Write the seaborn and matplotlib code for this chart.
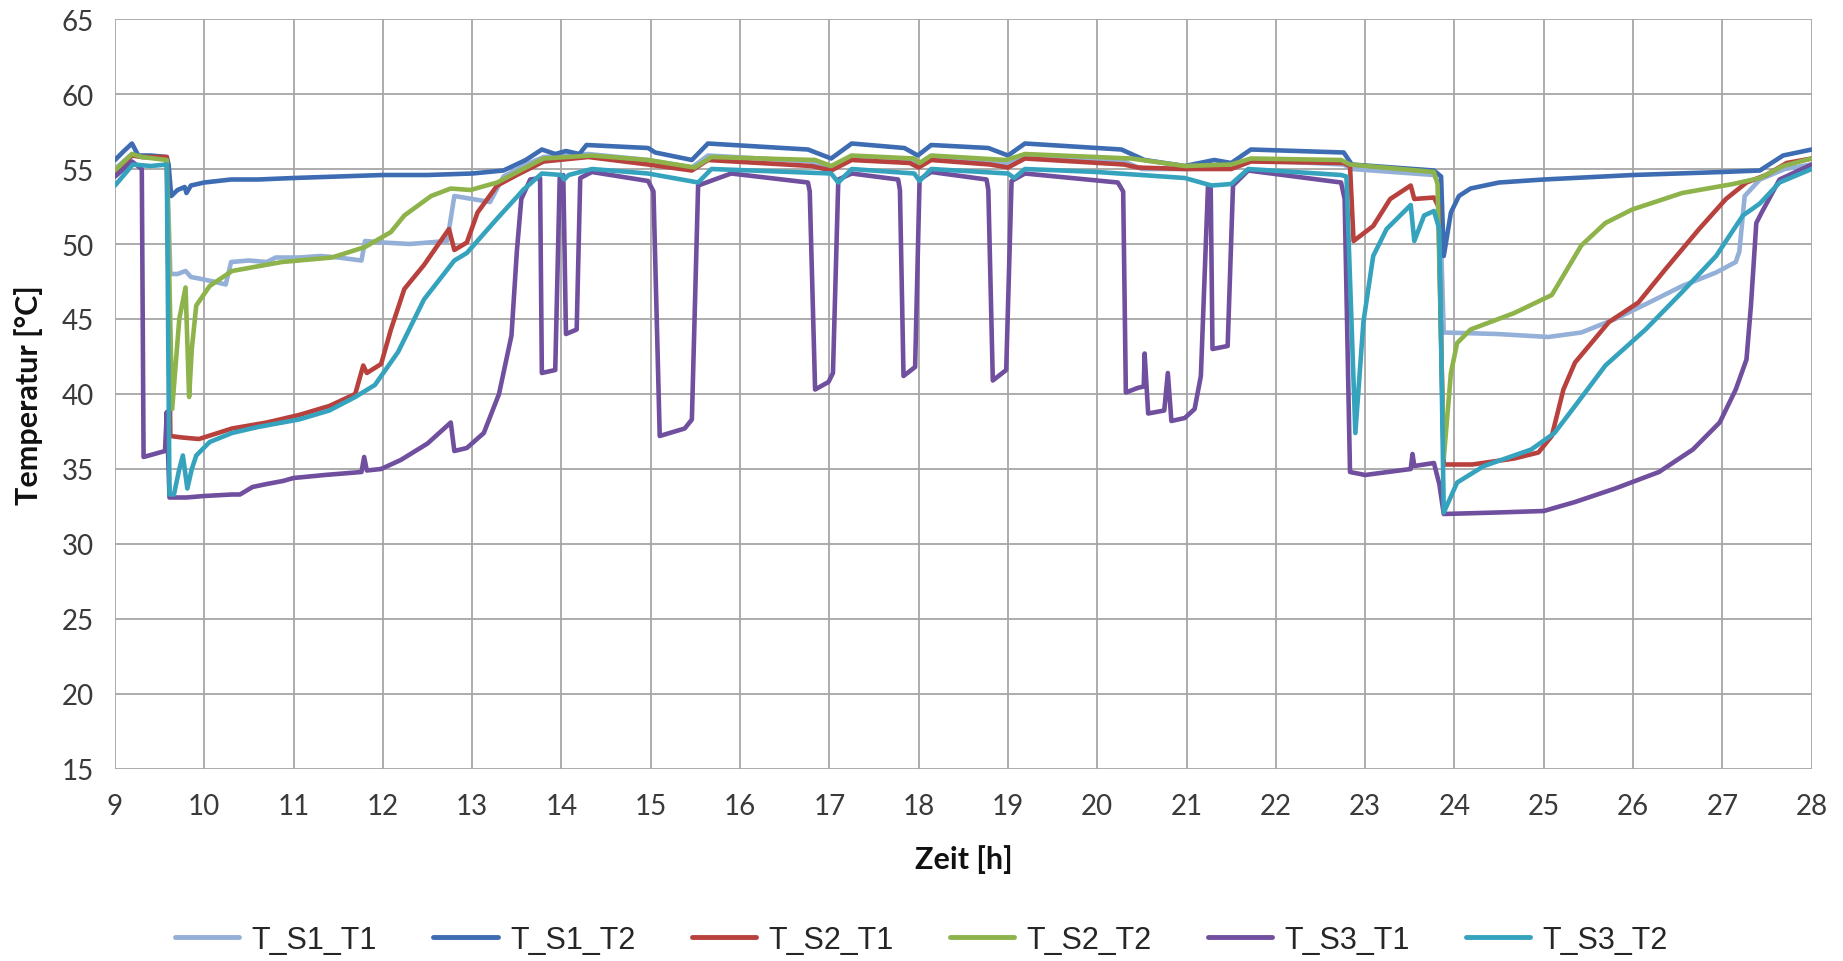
import pandas as pd
import matplotlib.pyplot as plt
import seaborn as sns

series_names = ['T_S1_T1', 'T_S1_T2', 'T_S2_T1', 'T_S2_T2', 'T_S3_T1', 'T_S3_T2']
series_colors = ['#94B0D8', '#3D6CB3', '#B8413E', '#8DB34A', '#6F4F9E', '#35A3BE']

# values (Zeit [h], Temperatur [°C])
t_s1_t1_h = [9.0, 9.19, 9.3, 9.58, 9.62, 9.7, 9.79, 9.85, 9.94, 10.1, 10.24, 10.3, 10.5, 10.7, 10.8, 11.06,
             11.3, 11.5, 11.76, 11.8, 12.0, 12.3, 12.72, 12.8, 13.0, 13.2, 13.35, 13.6, 13.8, 14.3, 14.97,
             15.46, 15.64, 16.8, 17.02, 17.25, 17.9, 18.0, 18.14, 18.8, 19.0, 19.19, 20.3, 20.5, 21.0, 21.5,
             21.72, 22.76, 22.85, 23.77, 23.83, 23.88, 24.48, 25.05, 25.42, 25.8, 26.18, 26.55, 26.93, 27.15,
             27.19, 27.25, 27.42, 27.7, 28.0]
t_s1_t1_temp = [55.0, 56.0, 55.8, 55.7, 48.0, 48.0, 48.2, 47.8, 47.7, 47.5, 47.3, 48.8, 48.9, 48.8, 49.1, 49.1,
                49.2, 49.1, 48.9, 50.2, 50.1, 50.0, 50.2, 53.2, 53.0, 52.8, 54.5, 55.3, 55.8, 56.0, 55.6,
                55.1, 55.9, 55.5, 55.1, 55.8, 55.6, 55.3, 55.8, 55.5, 55.3, 55.9, 55.5, 55.0, 55.0, 55.1,
                55.6, 55.3, 55.0, 54.6, 54.0, 44.1, 44.0, 43.8, 44.1, 45.0, 46.1, 47.2, 48.1, 48.8,
                49.5, 53.2, 54.3, 55.0, 55.3]

t_s1_t2_h = [9.0, 9.1, 9.19, 9.26, 9.4, 9.58, 9.6, 9.63, 9.7, 9.78, 9.8, 9.85, 10.0, 10.3, 10.6, 11.0, 11.5,
             12.0, 12.5, 13.0, 13.35, 13.6, 13.78, 13.93, 14.05, 14.2, 14.28, 14.97, 15.05, 15.46, 15.64,
             16.76, 17.02, 17.25, 17.84, 17.99, 18.14, 18.78, 19.0, 19.19, 20.27, 20.53, 20.98, 21.31, 21.5,
             21.72, 22.76, 22.85, 23.77, 23.85, 23.88, 23.96, 24.05, 24.18, 24.5, 25.0, 26.0, 27.0, 27.42,
             27.68, 28.0]
t_s1_t2_temp = [55.6, 56.2, 56.7, 55.9, 55.9, 55.8, 55.3, 53.2, 53.6, 53.8, 53.4, 53.9, 54.1, 54.3, 54.3, 54.4,
                54.5, 54.6, 54.6, 54.7, 54.9, 55.6, 56.3, 56.0, 56.2, 56.0, 56.6, 56.4, 56.1, 55.6, 56.7,
                56.3, 55.7, 56.7, 56.4, 55.9, 56.6, 56.4, 55.9, 56.7, 56.3, 55.6, 55.2, 55.6, 55.4,
                56.3, 56.1, 55.3, 54.9, 54.5, 49.2, 52.1, 53.2, 53.7, 54.1, 54.3, 54.6, 54.8, 54.9,
                55.9, 56.3]

t_s2_t1_h = [9.0, 9.19, 9.3, 9.58, 9.62, 9.75, 9.94, 10.1, 10.31, 10.7, 11.06, 11.4, 11.69, 11.78, 11.82,
             11.98, 12.09, 12.24, 12.46, 12.6, 12.74, 12.8, 12.94, 13.06, 13.28, 13.5, 13.8, 14.3, 14.97,
             15.46, 15.64, 16.8, 17.02, 17.25, 17.9, 18.0, 18.14, 18.8, 19.0, 19.19, 20.3, 20.45, 20.98,
             21.5, 21.72, 22.76, 22.83, 22.87, 23.09, 23.28, 23.51, 23.55, 23.77, 23.82, 23.88, 24.2, 24.67,
             24.94, 25.09, 25.22, 25.35, 25.73, 26.06, 26.36, 26.74, 27.04, 27.27, 27.49, 27.72, 28.0]
t_s2_t1_temp = [54.7, 55.9, 55.8, 55.8, 37.2, 37.1, 37.0, 37.3, 37.7, 38.1, 38.6, 39.2, 40.0, 41.9, 41.4,
                42.0, 44.3, 47.0, 48.6, 49.8, 51.0, 49.6, 50.1, 52.1, 53.9, 54.6, 55.5, 55.8, 55.3,
                54.9, 55.6, 55.2, 54.9, 55.6, 55.4, 55.1, 55.6, 55.3, 55.1, 55.7, 55.3, 55.1, 55.0,
                55.0, 55.5, 55.4, 55.2, 50.2, 51.2, 53.0, 53.9, 53.0, 53.1, 52.5, 35.3, 35.3, 35.7,
                36.1, 37.2, 40.3, 42.1, 44.8, 46.1, 48.3, 51.0, 53.0, 54.1, 54.6, 55.4, 55.7]

t_s2_t2_h = [9.0, 9.19, 9.3, 9.58, 9.64, 9.72, 9.79, 9.83, 9.86, 9.91, 10.06, 10.31, 10.87, 11.43, 11.8,
             12.09, 12.24, 12.54, 12.76, 12.98, 13.28, 13.57, 13.8, 14.34, 14.97, 15.49, 15.68, 16.84, 17.02,
             17.25, 17.95, 18.01, 18.14, 18.98, 19.19, 20.38, 20.98, 21.5, 21.72, 22.73, 22.83, 23.77,
             23.81, 23.88, 23.96, 24.03, 24.18, 24.67, 25.09, 25.2, 25.42, 25.69, 25.99, 26.55, 27.12,
             27.42, 27.68, 28.0]
t_s2_t2_temp = [54.9, 56.0, 55.8, 55.6, 39.0, 45.0, 47.1, 39.8, 43.0, 45.9, 47.2, 48.2, 48.8, 49.1, 49.8,
                50.8, 51.9, 53.2, 53.7, 53.6, 54.1, 55.0, 55.7, 55.9, 55.6, 55.1, 55.8, 55.6, 55.2,
                55.9, 55.7, 55.4, 55.9, 55.6, 56.0, 55.7, 55.2, 55.3, 55.7, 55.6, 55.3, 54.8,
                54.0, 35.7, 41.4, 43.4, 44.3, 45.4, 46.6, 47.7, 49.9, 51.4, 52.3, 53.4, 54.0,
                54.4, 55.2, 55.7]

t_s3_t1_h = [9.0, 9.19, 9.3, 9.32, 9.5, 9.56, 9.58, 9.61, 9.8, 10.0, 10.31, 10.4, 10.54, 10.7, 10.88, 11.0,
             11.35, 11.76, 11.79, 11.82, 11.98, 12.2, 12.5, 12.76, 12.8, 12.94, 13.13, 13.3, 13.44, 13.5,
             13.55, 13.65, 13.76, 13.78, 13.93, 13.98, 14.02, 14.05, 14.17, 14.21, 14.34, 14.97, 15.03,
             15.1, 15.38, 15.46, 15.53, 15.9, 16.76, 16.78, 16.84, 16.99, 17.04, 17.1, 17.25, 17.77, 17.79,
             17.83, 17.96, 18.01, 18.14, 18.76, 18.78, 18.83, 18.98, 19.04, 19.19, 20.23, 20.29, 20.32,
             20.45, 20.52, 20.53, 20.57, 20.75, 20.79, 20.83, 20.98, 21.09, 21.16, 21.24, 21.27, 21.29,
             21.46, 21.52, 21.69, 22.73, 22.77, 22.83, 23.0, 23.51, 23.53, 23.55, 23.77, 23.83, 23.88,
             24.48, 25.0, 25.35, 25.8, 26.29, 26.67, 26.97, 27.15, 27.27, 27.32, 27.38, 27.44, 27.64, 28.0]
t_s3_t1_temp = [54.5, 55.5, 55.0, 35.8, 36.1, 36.2, 38.8, 33.1, 33.1, 33.2, 33.3, 33.3, 33.8, 34.0, 34.2, 34.4,
                34.6, 34.8, 35.8, 34.9, 35.0, 35.6, 36.7, 38.1, 36.2, 36.4, 37.4, 40.0, 43.9, 49.5,
                53.0, 54.3, 54.4, 41.4, 41.6, 54.4, 54.6, 44.0, 44.3, 54.4, 54.8, 54.2, 53.5,
                37.2, 37.7, 38.3, 53.9, 54.7, 54.1, 53.5, 40.3, 40.8, 41.4, 54.3, 54.7, 54.3, 53.6,
                41.2, 41.8, 54.3, 54.8, 54.3, 53.6, 40.9, 41.6, 54.2, 54.7, 54.1, 53.5, 40.1,
                40.4, 40.5, 42.7, 38.7, 38.9, 41.4, 38.2, 38.4, 39.0, 41.2, 53.9, 53.9, 43.0,
                43.2, 53.9, 54.9, 54.1, 53.0, 34.8, 34.6, 35.0, 36.0, 35.2, 35.4, 34.0, 32.0,
                32.1, 32.2, 32.8, 33.7, 34.8, 36.3, 38.1, 40.3, 42.3, 45.9, 51.4, 52.1, 54.3, 55.3]

t_s3_t2_h = [9.0, 9.2, 9.4, 9.58, 9.61, 9.66, 9.72, 9.76, 9.81, 9.86, 9.91, 10.06, 10.31, 10.6, 11.06, 11.4,
             11.69, 11.91, 12.17, 12.46, 12.8, 12.94, 13.28, 13.51, 13.57, 13.78, 14.0, 14.03, 14.08, 14.34,
             14.97, 15.53, 15.68, 17.02, 17.1, 17.25, 17.95, 18.01, 18.14, 19.0, 19.07, 19.19, 20.0, 20.98,
             21.28, 21.5, 21.69, 22.73, 22.79, 22.89, 22.98, 23.09, 23.24, 23.51, 23.55, 23.66, 23.77,
             23.83, 23.88, 24.03, 24.33, 24.86, 25.12, 25.35, 25.69, 26.14, 26.55, 26.93, 27.23, 27.42,
             27.64, 28.0]
t_s3_t2_temp = [53.9, 55.3, 55.2, 55.3, 33.3, 33.3, 35.0, 35.9, 33.7, 35.0, 35.9, 36.8, 37.4, 37.8, 38.3, 38.9,
                39.8, 40.6, 42.8, 46.3, 48.9, 49.4, 51.7, 53.2, 53.6, 54.7, 54.6, 54.3, 54.6, 55.0,
                54.7, 54.1, 55.0, 54.7, 54.1, 55.0, 54.7, 54.2, 55.0, 54.7, 54.4, 55.0, 54.8, 54.4,
                53.9, 54.0, 55.0, 54.6, 54.5, 37.4, 44.8, 49.2, 51.0, 52.6, 50.2, 51.9, 52.2,
                51.0, 32.1, 34.1, 35.2, 36.3, 37.4, 39.2, 41.9, 44.3, 46.8, 49.2, 51.9, 52.7,
                54.1, 55.0]

hours = [t_s1_t1_h, t_s1_t2_h, t_s2_t1_h, t_s2_t2_h, t_s3_t1_h, t_s3_t2_h]
temps = [t_s1_t1_temp, t_s1_t2_temp, t_s2_t1_temp, t_s2_t2_temp, t_s3_t1_temp, t_s3_t2_temp]

frames = []
for name, h, t in zip(series_names, hours, temps):
    frames.append(pd.DataFrame({'Zeit': h, 'Temperatur': t, 'Serie': name}))
df = pd.concat(frames, ignore_index=True)

sns.set_style('white')
plt.rcParams['font.family'] = ['Lato', 'DejaVu Sans']
grid_color = '#A6A6A6'

fig = plt.figure(figsize=(18.43, 9.62), dpi=100)
ax = fig.add_axes([0.0624, 0.1996, 0.9206, 0.7796])

sns.lineplot(data=df, x='Zeit', y='Temperatur', hue='Serie', hue_order=series_names,
             palette=dict(zip(series_names, series_colors)), sort=False, estimator=None,
             linewidth=3.3, ax=ax, legend=False)

ax.set_xlim(9, 28)
ax.set_ylim(15, 65)
ax.set_xticks(range(9, 29))
ax.set_yticks(range(15, 66, 5))
ax.grid(True, color=grid_color, linewidth=1.3)
ax.set_axisbelow(True)
for sp in ax.spines.values():
    sp.set_visible(False)
ax.tick_params(axis='both', which='major', length=7, width=1.3, color=grid_color,
               labelsize=20, labelcolor='#3A3A3A', direction='out')
ax.tick_params(axis='x', pad=10)
ax.tick_params(axis='y', pad=8)

ax.set_xlabel('Zeit [h]', fontsize=22, fontweight='bold', color='#111111')
ax.set_ylabel('Temperatur [°C]', fontsize=22, fontweight='bold', color='#111111')
ax.xaxis.set_label_coords(0.5, -0.12)
ax.xaxis.label.set_va('center')
ax.yaxis.set_label_coords(-0.0507, 0.5)
ax.yaxis.label.set_va('center')

handles = [plt.Line2D([], [], color=c, linewidth=3.5) for c in series_colors]
fig.legend(handles, series_names, loc='center', bbox_to_anchor=(0.5, 0.022), ncol=6, frameon=False,
           prop={'family': 'Liberation Sans', 'size': 22}, handlelength=2.1, columnspacing=1.85,
           handletextpad=0.4)

plt.savefig('out.png', dpi=100)
